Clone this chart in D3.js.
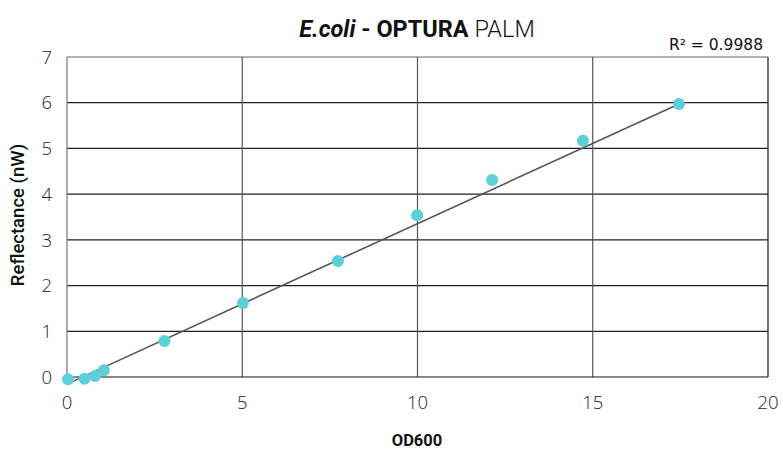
<!DOCTYPE html>
<html><head><meta charset="utf-8">
<script src="https://cdn.jsdelivr.net/npm/d3@7"></script>
<style>body{margin:0;background:#fff;}svg{display:block;}</style>
</head><body>
<svg id="c" width="783" height="453"></svg>
<script>
const odValues = [0.03, 0.5, 0.8, 1.05, 2.78, 5.02, 7.73, 9.99, 12.13, 14.72, 17.46];
const reflectance = [-0.05, -0.04, 0.02, 0.15, 0.79, 1.62, 2.54, 3.54, 4.31, 5.17, 5.97];
const trendSlope = 0.351;
const trendIntercept = -0.155;
const xTicks = [0, 5, 10, 15, 20];
const yTicks = [0, 1, 2, 3, 4, 5, 6, 7];
const r2Label = "R² = 0.9988";

const svg = d3.select("#c");
const m = {l:67, r:15, t:57, b:76};
const W = 783, H = 453;
const x = d3.scaleLinear().domain([0,20]).range([m.l, W-m.r]);
const y = d3.scaleLinear().domain([0,7]).range([H-m.b, m.t]);
const font = "Roboto, 'DejaVu Sans', sans-serif";

// gridlines
svg.append("g").selectAll("line").data(yTicks.slice(1)).join("line")
  .attr("x1", x(0)).attr("x2", x(20)).attr("y1", d=>y(d)).attr("y2", d=>y(d))
  .attr("stroke", d=> d===7 ? "#666" : "#222").attr("stroke-width",1.2);
svg.append("g").selectAll("line").data(xTicks.slice(1)).join("line")
  .attr("y1", y(0)).attr("y2", y(7)).attr("x1", d=>x(d)).attr("x2", d=>x(d))
  .attr("stroke", d=> d===20 ? "#111" : "#555").attr("stroke-width",1.2);
// axes lines
svg.append("line").attr("x1",x(0)).attr("x2",x(0)).attr("y1",y(0)).attr("y2",y(7)).attr("stroke","#777").attr("stroke-width",1.2);
svg.append("line").attr("x1",x(0)).attr("x2",x(20)).attr("y1",y(0)).attr("y2",y(0)).attr("stroke","#111").attr("stroke-width",1.2);

// tick labels
svg.append("g").selectAll("text").data(yTicks).join("text")
  .attr("x", 52).attr("y", d=>y(d)).attr("dy","0.36em").attr("text-anchor","end")
  .attr("font-family","'Open Sans', sans-serif").attr("font-weight",300).attr("font-size",18.5).attr("fill","#222").text(d=>d);
svg.append("g").selectAll("text").data(xTicks).join("text")
  .attr("x", d=>x(d)).attr("y", 409).attr("text-anchor","middle")
  .attr("font-family","'Open Sans', sans-serif").attr("font-weight",300).attr("font-size",18.5).attr("fill","#222").text(d=>d);

// trendline over data range
const x0 = d3.min(odValues), x1 = d3.max(odValues);
svg.append("line").attr("x1",x(x0)).attr("y1",y(trendIntercept+trendSlope*x0))
  .attr("x2",x(x1)).attr("y2",y(trendIntercept+trendSlope*x1))
  .attr("stroke","#555").attr("stroke-width",1.6);

// points
svg.append("g").selectAll("circle").data(odValues).join("circle")
  .attr("cx", d=>x(d)).attr("cy", (d,i)=>y(reflectance[i])).attr("r",6).attr("fill","#5ccfd9");

// title
const t = svg.append("text").attr("x", 417).attr("y", 37).attr("text-anchor","middle")
  .attr("font-family",font).attr("font-size",23.5).attr("fill","#111");
t.append("tspan").attr("font-weight",700).attr("font-style","italic").text("E.coli");
t.append("tspan").attr("font-weight",700).text(" - OPTURA ");
t.append("tspan").attr("font-weight",300).text("PALM");

svg.append("text").attr("x", 763).attr("y", 50).attr("text-anchor","end")
  .attr("font-family","'DejaVu Sans', sans-serif").attr("font-weight",400).attr("font-size",15.5).attr("fill","#111").text(r2Label);

svg.append("text").attr("transform","translate(24,215) rotate(-90)").attr("text-anchor","middle")
  .attr("font-family",font).attr("font-weight",500).attr("font-size",18.5).attr("fill","#111").text("Reflectance (nW)");
svg.append("text").attr("x", 417).attr("y", 446).attr("text-anchor","middle")
  .attr("font-family",font).attr("font-weight",700).attr("font-size",16.5).attr("fill","#111").text("OD600");
</script>
</body></html>
